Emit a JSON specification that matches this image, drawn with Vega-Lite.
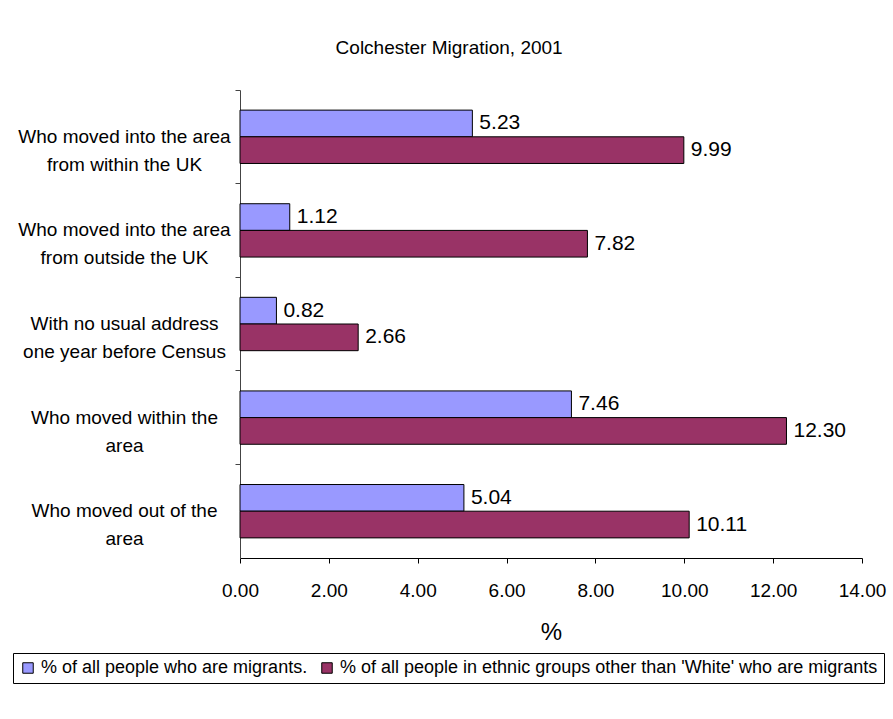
{
  "$schema": "https://vega.github.io/schema/vega-lite/v6.json",
  "autosize": "none",
  "width": 622,
  "height": 468,
  "padding": {"left": 240, "top": 90, "right": 31, "bottom": 161},
  "background": "white",
  "config": {"view": {"stroke": null}},
  "title": {
    "text": "Colchester Migration, 2001",
    "font": "Liberation Sans",
    "fontSize": 19,
    "fontWeight": "normal",
    "color": "black",
    "anchor": "middle",
    "frame": "bounds",
    "offset": 32
  },
  "data": {
    "values": [
      {"category": "Who moved into the area|from within the UK", "series": "% of all people who are migrants.", "value": 5.23},
      {"category": "Who moved into the area|from within the UK", "series": "% of all people in ethnic groups other than 'White' who are migrants", "value": 9.99},
      {"category": "Who moved into the area|from outside the UK", "series": "% of all people who are migrants.", "value": 1.12},
      {"category": "Who moved into the area|from outside the UK", "series": "% of all people in ethnic groups other than 'White' who are migrants", "value": 7.82},
      {"category": "With no usual address|one year before Census", "series": "% of all people who are migrants.", "value": 0.82},
      {"category": "With no usual address|one year before Census", "series": "% of all people in ethnic groups other than 'White' who are migrants", "value": 2.66},
      {"category": "Who moved within the|area", "series": "% of all people who are migrants.", "value": 7.46},
      {"category": "Who moved within the|area", "series": "% of all people in ethnic groups other than 'White' who are migrants", "value": 12.30},
      {"category": "Who moved out of the|area", "series": "% of all people who are migrants.", "value": 5.04},
      {"category": "Who moved out of the|area", "series": "% of all people in ethnic groups other than 'White' who are migrants", "value": 10.11}
    ]
  },
  "encoding": {
    "y": {
      "field": "category",
      "type": "nominal",
      "sort": null,
      "scale": {"paddingInner": 0.43, "paddingOuter": 0.215},
      "axis": {
        "title": null,
        "labelExpr": "split(datum.label, '|')",
        "labelAlign": "center",
        "labelBaseline": "middle",
        "labelPadding": 111,
        "labelFont": "Liberation Sans",
        "labelFontSize": 19,
        "labelLineHeight": 28,
        "labelColor": "black",
        "labelLimit": 400,
        "tickSize": 5,
        "bandPosition": -0.377,
        "tickColor": "#444",
        "domainColor": "#444",
        "grid": false
      }
    },
    "yOffset": {
      "field": "series",
      "type": "nominal",
      "sort": ["% of all people who are migrants.", "% of all people in ethnic groups other than 'White' who are migrants"]
    },
    "x": {
      "field": "value",
      "type": "quantitative",
      "scale": {"domain": [0, 14], "nice": false},
      "axis": {
        "title": "%",
        "titleFont": "Liberation Sans",
        "titleFontSize": 24,
        "titleFontWeight": "normal",
        "titleColor": "black",
        "titlePadding": 20,
        "values": [0, 2, 4, 6, 8, 10, 12, 14],
        "format": ".2f",
        "labelFont": "Liberation Sans",
        "labelFontSize": 19,
        "labelColor": "black",
        "labelPadding": 18,
        "labelFlush": false,
        "tickSize": 5,
        "tickColor": "black",
        "domainColor": "black",
        "grid": false
      }
    }
  },
  "layer": [
    {
      "mark": {"type": "bar", "stroke": "black", "strokeWidth": 1},
      "encoding": {
        "color": {
          "field": "series",
          "type": "nominal",
          "sort": ["% of all people who are migrants.", "% of all people in ethnic groups other than 'White' who are migrants"],
          "scale": {
            "domain": ["% of all people who are migrants.", "% of all people in ethnic groups other than 'White' who are migrants"],
            "range": ["#9999FF", "#993366"]
          },
          "legend": {
            "title": null,
            "orient": "none",
            "legendX": -227,
            "legendY": 563,
            "direction": "horizontal",
            "strokeColor": "black",
            "padding": 6,
            "symbolType": "square",
            "symbolSize": 110,
            "symbolStrokeColor": "black",
            "symbolStrokeWidth": 1,
            "symbolOpacity": 1,
            "labelFont": "Liberation Sans",
            "labelFontSize": 18,
            "labelColor": "black",
            "labelLimit": 700,
            "columnPadding": 10,
            "labelOffset": 4
          }
        }
      }
    },
    {
      "mark": {"type": "text", "align": "left", "baseline": "middle", "dx": 7, "font": "Liberation Sans", "fontSize": 21, "color": "black"},
      "encoding": {
        "text": {"field": "value", "type": "quantitative", "format": ".2f"}
      }
    }
  ]
}
